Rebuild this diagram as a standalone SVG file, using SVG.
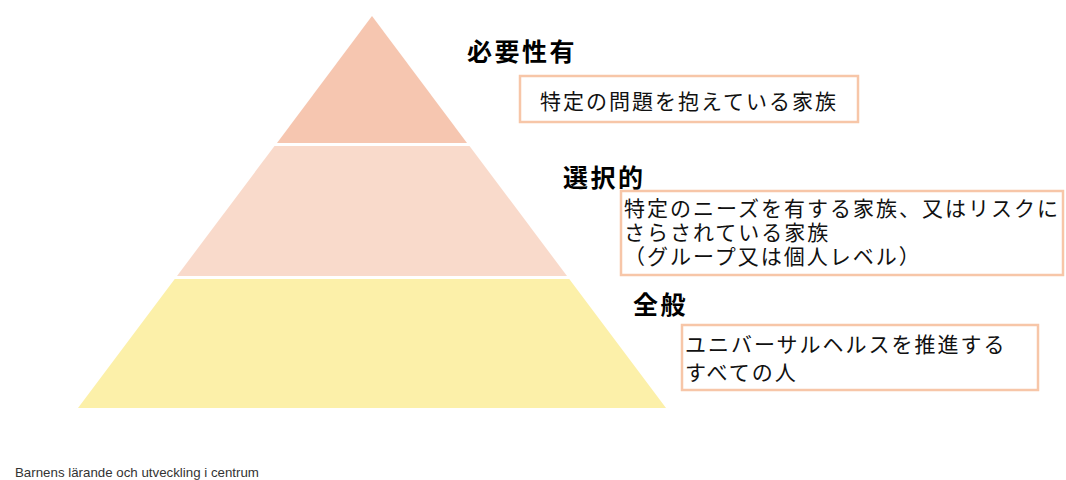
<svg xmlns="http://www.w3.org/2000/svg" width="1066" height="480" viewBox="0 0 1066 480">
<style>
.head{font-family:"Noto Sans CJK JP","Noto Sans",sans-serif;font-weight:700;font-size:25px;fill:#000;letter-spacing:2.5px}
.body{font-family:"Liberation Serif","Noto Sans CJK JP",serif;font-weight:400;font-size:21px;fill:#111;letter-spacing:2px}
.box{fill:#fff;stroke:#F7C6A8;stroke-width:2.5}
.foot{font-family:"Liberation Sans",Arial,sans-serif;font-size:13.3px;fill:#333}
</style>
<rect width="1066" height="480" fill="#fff"/>
<g id="tier-top"><polygon points="372,16 467,143 277,143" fill="#F6C6B0"/></g>
<g id="tier-middle"><polygon points="274.5,146 469.5,146 567,276 177,276" fill="#F9DACB"/></g>
<g id="tier-bottom"><polygon points="174.75,279 569.25,279 666,408 78,408" fill="#FCF0A9"/></g>
<g id="label-top">
<text class="head" x="467" y="61">必要性有</text>
<rect class="box" x="520" y="76" width="338" height="46"/>
<text class="body" x="540" y="109">特定の問題を抱えている家族</text>
</g>
<g id="label-middle">
<text class="head" x="563" y="187">選択的</text>
<rect class="box" x="621" y="191" width="442" height="84"/>
<text class="body"><tspan x="624" y="216">特定のニーズを有する家族、又はリスクに</tspan><tspan x="624" y="240">さらされている家族</tspan><tspan x="624" y="264">（グループ又は個人レベル）</tspan></text>
</g>
<g id="label-bottom">
<text class="head" x="633" y="314">全般</text>
<rect class="box" x="682" y="325" width="356" height="65"/>
<text class="body"><tspan x="685" y="352">ユニバーサルヘルスを推進する</tspan><tspan x="685" y="380">すべての人</tspan></text>
</g>
<g id="footer"><text class="foot" x="15" y="477">Barnens lärande och utveckling i centrum</text></g>
</svg>
